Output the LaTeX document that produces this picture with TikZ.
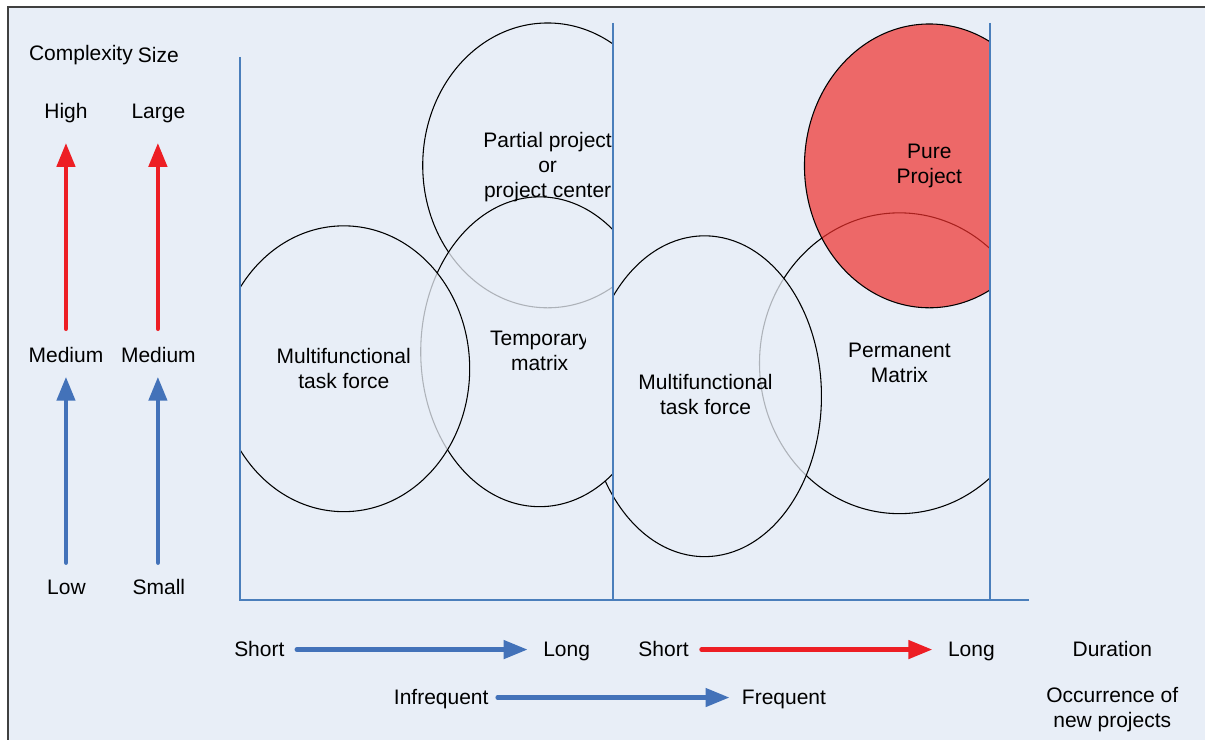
\documentclass[tikz,border=0pt]{standalone}
\usepackage{fontspec}
\setmainfont{Liberation Sans}
\usetikzlibrary{arrows.meta}

\definecolor{paper}{RGB}{232,238,247}
\definecolor{frameline}{RGB}{64,64,64}
\definecolor{axisblue}{RGB}{74,126,187}
\definecolor{trendblue}{RGB}{67,114,185}
\definecolor{trendred}{RGB}{237,30,36}
\definecolor{purefill}{RGB}{240,48,44}

\begin{document}
\begin{tikzpicture}[x=0.75pt,y=-0.75pt,
  lbl/.style={font=\fontsize{15.75}{18.75}\selectfont, inner sep=0pt, anchor=base},
  block/.style={font=\fontsize{15.75}{18.75}\selectfont, inner sep=0pt, align=center, anchor=north},
  bubble/.style={draw=black, line width=0.8pt, fill=paper, fill opacity=0.75},
  axisline/.style={draw=axisblue, line width=1.5pt},
  trend/.style={line width=3.4pt, line cap=round, -{Triangle[length=18pt,width=13.5pt]}},
]
% page and frame
\fill[white] (0,0) rectangle (1206,740);
\fill[paper] (8,7) rectangle (1206,740);
\draw[frameline, line width=1.2pt] (8,740) -- (8,7) -- (1206,7);
\useasboundingbox (0,0) rectangle (1206,740);

% right group: permanent matrix and second task force
\begin{scope}
  \clip (0,0) rectangle (991,740);
  \draw[bubble] (900,363.5) ellipse [x radius=140, y radius=150.5];
\end{scope}
\draw[bubble] (705,396.5) ellipse [x radius=117, y radius=160.5];

% left group: partial project, temporary matrix
\begin{scope}
  \clip (0,0) rectangle (613,740);
  \fill[paper] (540,352) ellipse [x radius=119, y radius=155];
  \draw[bubble] (548,165.5) ellipse [x radius=125, y radius=142.5];
  \draw[bubble] (540,352) ellipse [x radius=119, y radius=155];
\end{scope}
\begin{scope}
  \clip (240,0) rectangle (1206,740);
  \draw[bubble] (344,369) ellipse [x radius=126, y radius=143];
\end{scope}

% pure project
\begin{scope}
  \clip (0,0) rectangle (991,740);
  \draw[draw=black, line width=0.8pt, fill=purefill, fill opacity=0.7] (930,166) ellipse [x radius=125, y radius=142];
\end{scope}

% axes
\draw[axisline] (240,57) -- (240,600) -- (1030,600);
\draw[axisline] (613,23) -- (613,600);
\draw[axisline] (991,23) -- (991,600);

% texts inside the bubbles
\node[block] (partial) at (548,132) {Partial project\\or\\project center};
\node[block] (pure) at (930,144) {Pure\\Project};
\node[block] (mfa) at (344,348) {Multifunctional\\task force};
\begin{scope}
  \clip (0,0) rectangle (586,740);
  \node[block] (temp) at (540,331) {Temporary\\matrix};
\end{scope}
\node[block] (mfb) at (706,374) {Multifunctional\\task force};
\node[block] (perm) at (900,343) {Permanent\\Matrix};

% scale labels on the left
\node[lbl] (complexity) at (81,61) {Complexity};
\node[lbl] (size) at (158.5,63) {Size};
\node[lbl] (high) at (66,119) {High};
\node[lbl] (large) at (158.5,119) {Large};
\node[lbl] (medA) at (66,363) {Medium};
\node[lbl] (medB) at (158.5,363) {Medium};
\node[lbl] (low) at (66.5,595) {Low};
\node[lbl] (small) at (159,595) {Small};

% labels below the axis
\node[lbl] (shortA) at (259.5,657) {Short};
\node[lbl] (longA) at (567,657) {Long};
\node[lbl] (shortB) at (664,657) {Short};
\node[lbl] (longB) at (972,657) {Long};
\node[lbl] (duration) at (1113,657) {Duration};
\node[lbl] (infreq) at (441.5,705) {Infrequent};
\node[lbl] (freq) at (784.5,705) {Frequent};
\node[block] (occur) at (1113,688) {Occurrence of\\new projects};

% arrow ends
\coordinate (cLowS) at (66,563);   \coordinate (cLowE) at (66,377);
\coordinate (cHighS) at (66,329);  \coordinate (cHighE) at (66,143);
\coordinate (sLowS) at (158,563);  \coordinate (sLowE) at (158,377);
\coordinate (sHighS) at (158,329); \coordinate (sHighE) at (158,143);
\coordinate (dAS) at (297,650);    \coordinate (dAE) at (528,650);
\coordinate (dBS) at (702,650);    \coordinate (dBE) at (933,650);
\coordinate (fS) at (498,698);     \coordinate (fE) at (730,698);

% trend arrows
\draw[trend, trendblue] (cLowS) -- (cLowE);
\draw[trend, trendred] (cHighS) -- (cHighE);
\draw[trend, trendblue] (sLowS) -- (sLowE);
\draw[trend, trendred] (sHighS) -- (sHighE);
\draw[trend, trendblue] (dAS) -- (dAE);
\draw[trend, trendred] (dBS) -- (dBE);
\draw[trend, trendblue] (fS) -- (fE);
\end{tikzpicture}
\end{document}
